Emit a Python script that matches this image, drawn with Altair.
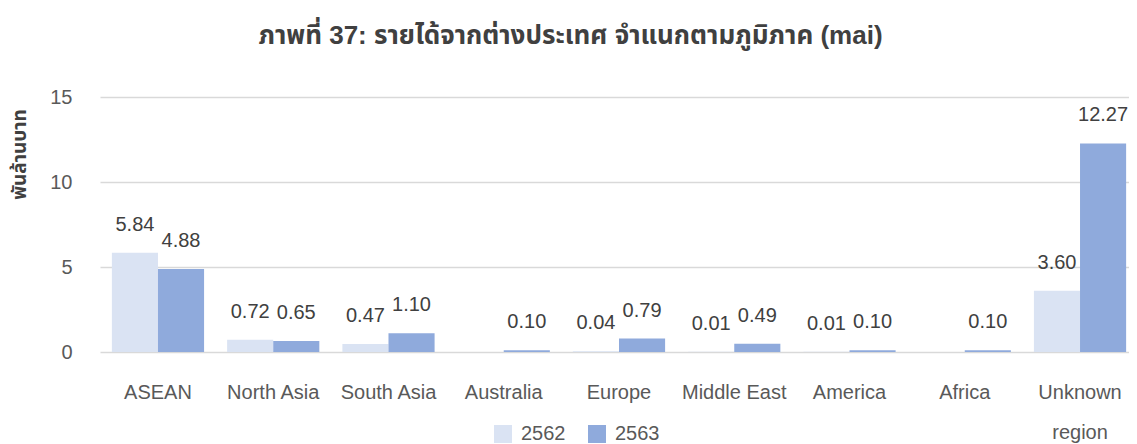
import altair as alt
import pandas as pd

categories = ["ASEAN", "North Asia", "South Asia", "Australia", "Europe",
              "Middle East", "America", "Africa", "Unknown region"]
years = ["2562", "2563"]
values_2562 = [5.84, 0.72, 0.47, 0.0, 0.04, 0.01, 0.01, 0.0, 3.60]
values_2563 = [4.88, 0.65, 1.10, 0.10, 0.79, 0.49, 0.10, 0.10, 12.27]
labels_2562 = ["5.84", "0.72", "0.47", "", "0.04", "0.01", "0.01", "", "3.60"]
labels_2563 = ["4.88", "0.65", "1.10", "0.10", "0.79", "0.49", "0.10", "0.10", "12.27"]
colors = ["#dae3f3", "#8faadc"]

rows = []
for c, v, l in zip(categories, values_2562, labels_2562):
    rows.append({"region": c, "year": "2562", "value": v, "label": l})
for c, v, l in zip(categories, values_2563, labels_2563):
    rows.append({"region": c, "year": "2563", "value": v, "label": l})
df = pd.DataFrame(rows)

FONT = "Liberation Sans, Arial, Noto Sans Thai, Noto Sans, sans-serif"
FS = 20

x_enc = alt.X("region:N", sort=categories, title=None,
              scale=alt.Scale(paddingInner=0.2, paddingOuter=0.103, range=[0, 1038]),
              axis=alt.Axis(labelAngle=0, ticks=False, domain=False, grid=False,
                            labelFontSize=FS, labelColor="#595959", labelFont=FONT,
                            labelPadding=30, labelLineHeight=40, labelBaseline="top",
                            labelExpr="datum.value == 'Unknown region' ? ['Unknown', 'region'] : datum.value"))
y_enc = alt.Y("value:Q", scale=alt.Scale(domain=[0, 15], nice=False),
              axis=alt.Axis(values=[0, 5, 10, 15], ticks=False, domain=False,
                            grid=True, gridColor="#d9d9d9", gridWidth=1.5,
                            labelFontSize=FS, labelColor="#595959", labelFont=FONT,
                            labelPadding=28,
                            title="พันล้านบาท", titleFontSize=19, titleFontWeight="bold",
                            titleColor="#404040", titleFont=FONT,
                            titleX=-81, titleY=57, titleAlign="center",
                            titleBaseline="middle", titleAngle=270))

base = alt.Chart(df).encode(
    x=x_enc,
    xOffset=alt.XOffset("year:N", sort=years, scale=alt.Scale(paddingInner=0)),
)

bars = base.mark_bar().encode(
    y=y_enc,
    color=alt.Color("year:N", sort=years,
                    scale=alt.Scale(domain=years, range=colors),
                    legend=alt.Legend(title=None, orient="none", direction="horizontal",
                                      legendX=393, legendY=327,
                                      symbolType="square", symbolSize=324,
                                      symbolStrokeWidth=0, labelFontSize=FS,
                                      labelColor="#595959", labelFont=FONT,
                                      columnPadding=21, labelOffset=8)),
)

texts = base.mark_text(fontSize=FS, color="#404040", font=FONT, dy=-28,
                       baseline="middle").encode(
    y="value:Q",
    text="label:N",
)

chart = (bars + texts).properties(
    width=1029, height=255,
    title=alt.TitleParams("ภาพที่ 37: รายได้จากต่างประเทศ จำแนกตามภูมิภาค (mai)",
                          fontSize=26, fontWeight="bold", color="#404040",
                          font=FONT, anchor="middle", offset=38, dx=-44),
    autosize=alt.AutoSizeParams(type="none"),
    padding={"left": 92, "top": 89, "right": 0, "bottom": 92},
).configure_view(stroke=None)

chart.save("out.html", embed_options={"renderer": "svg", "actions": False})
